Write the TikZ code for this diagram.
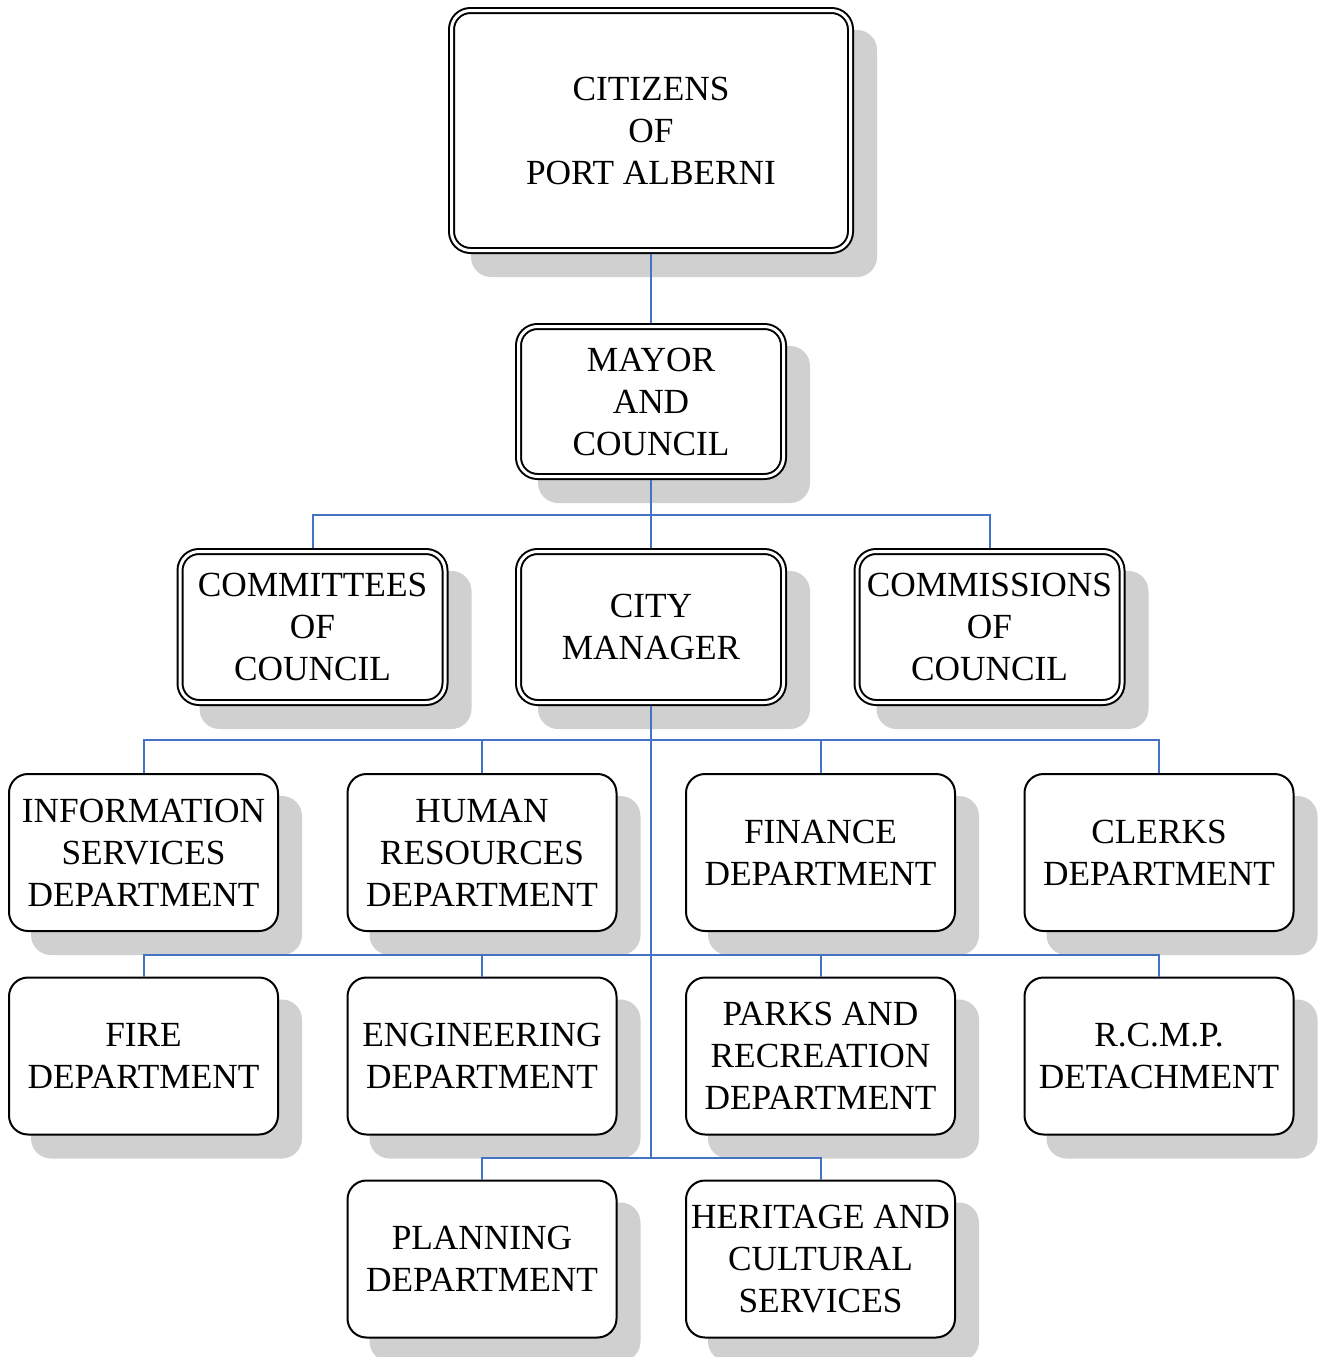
\documentclass[tikz,border=0pt]{standalone}
\usepackage{fontspec}
\setmainfont{Liberation Serif}
\usetikzlibrary{calc}
\pgfdeclarelayer{background}
\pgfsetlayers{background,main}
\definecolor{linkblue}{RGB}{68,114,196}
\definecolor{shadowgray}{RGB}{208,208,208}
\tikzset{
  box/.style={draw=black, line width=2pt, fill=white, rounded corners=19pt,
    align=center, inner sep=0pt, outer sep=1pt,
    minimum width=269pt, minimum height=157pt,
    font=\fontsize{35.3}{42}\selectfont},
  dbox/.style={box, double=white, double distance=3pt, outer sep=3.5pt,
    minimum width=265pt, minimum height=151pt},
  link/.style={draw=linkblue, line width=2pt},
  shade box/.style={fill=shadowgray, rounded corners=20pt},
}
\newcommand\castshadow[1]{%
  \fill[shade box] ($(#1.north west)+(23,23)$) rectangle ($(#1.south east)+(23,23)$);}
\begin{document}
\begin{tikzpicture}[x=1pt, y=-1pt]
\useasboundingbox (0,0) rectangle (1318,1357);

% top levels
\node[dbox, minimum width=399pt, minimum height=240pt] (citizens) at (651,130.5)
  {CITIZENS\\OF\\PORT ALBERNI};
\node[dbox, minimum height=150pt] (mayor) at (651,401.5) {MAYOR\\AND\\COUNCIL};
\node[dbox] (committees) at (312.5,627) {COMMITTEES\\OF\\COUNCIL};
\node[dbox] (manager) at (651,627) {CITY\\MANAGER};
\node[dbox] (commissions) at (989.5,627) {COMMISSIONS\\OF\\COUNCIL};

% departments, first row
\node[box] (info) at (143.5,852.5) {INFORMATION\\SERVICES\\DEPARTMENT};
\node[box] (hr) at (482,852.5) {HUMAN\\RESOURCES\\DEPARTMENT};
\node[box] (finance) at (820.5,852.5) {FINANCE\\DEPARTMENT};
\node[box] (clerks) at (1159,852.5) {CLERKS\\DEPARTMENT};

% departments, second row
\node[box] (fire) at (143.5,1056) {FIRE\\DEPARTMENT};
\node[box] (eng) at (482,1056) {ENGINEERING\\DEPARTMENT};
\node[box] (parks) at (820.5,1056) {PARKS AND\\RECREATION\\DEPARTMENT};
\node[box] (rcmp) at (1159,1056) {R.C.M.P.\\DETACHMENT};

% departments, third row
\node[box] (planning) at (482,1259) {PLANNING\\DEPARTMENT};
\node[box] (heritage) at (820.5,1259) {HERITAGE AND\\CULTURAL\\SERVICES};

% drop shadows behind every box
\begin{pgfonlayer}{background}
  \foreach \n in {citizens,mayor,committees,manager,commissions,
                  info,hr,finance,clerks,fire,eng,parks,rcmp,planning,heritage}
    {\castshadow{\n}}
\end{pgfonlayer}

% bus coordinates
\coordinate (bus1) at (651,515);
\coordinate (bus2) at (651,740);
\coordinate (bus3) at (651,955);
\coordinate (bus4) at (651,1158);

% connectors
\draw[link] (citizens.south) -- (mayor.north);
\draw[link] (mayor.south) -- (manager.north);
\draw[link] (committees.north) |- (bus1) -| (commissions.north);
\draw[link] (manager.south) -- (bus4);

\draw[link] (info.north) |- (bus2) -| (clerks.north);
\draw[link] (hr.north) -- (hr.north |- bus2);
\draw[link] (finance.north) -- (finance.north |- bus2);

\draw[link] (fire.north) |- (bus3) -| (rcmp.north);
\draw[link] (eng.north) -- (eng.north |- bus3);
\draw[link] (parks.north) -- (parks.north |- bus3);

\draw[link] (planning.north) |- (bus4) -| (heritage.north);
\end{tikzpicture}
\end{document}
